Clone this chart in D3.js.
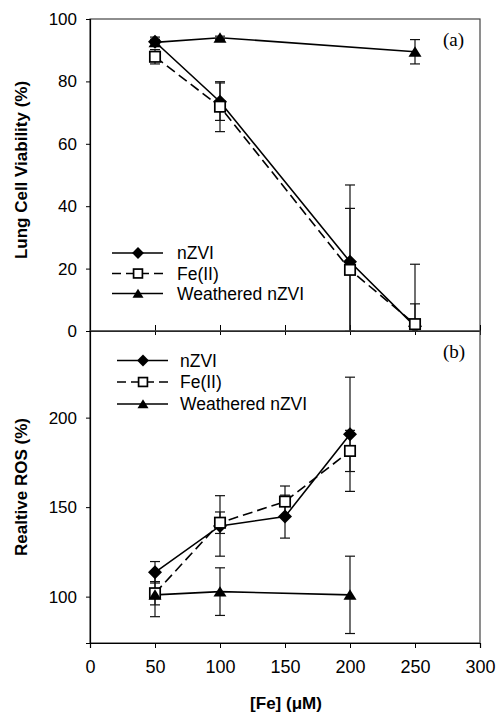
<!DOCTYPE html>
<html><head><meta charset="utf-8">
<script src="https://cdn.jsdelivr.net/npm/d3@7"></script>
<style>body{margin:0;background:#fff}svg{display:block}</style>
</head><body>
<script>
// ---- data ----
const xTicks = [0, 50, 100, 150, 200, 250, 300];
const yTicksTop = [0, 20, 40, 60, 80, 100];
const yTicksBot = [100, 150, 200];
const seriesNames = ["nZVI", "Fe(II)", "Weathered nZVI"];

const xA = [50, 100, 200, 250];
const nzviA = [92.7, 73.5, 22.2, 1.5];
const nzviAErr = [1.5, 6, 24.6, 7.2];
const feA = [87.9, 71.9, 19.6, 2.2];
const feAErr = [2.3, 8, 19.7, 19.2];
const xWA = [50, 100, 250];
const wA = [92.5, 94, 89.5];
const wAErr = [1, 0.5, 3.9];

const xB = [50, 100, 150, 200];
const nzviB = [113.6, 139.5, 144.7, 190.7];
const nzviBErr = [6, 16.9, 12, 31.9];
const feB = [101.9, 141.3, 153.1, 181.4];
const feBErr = [6.5, 6, 8.7, 11.5];
const xWB = [50, 100, 200];
const wB = [101, 102.8, 101];
const wBErr = [12.2, 13.3, 21.6];

const W = 496, H = 713;
const svg = d3.select("body").append("svg").attr("width", W).attr("height", H);
const FONT = "'Liberation Sans', Arial, sans-serif";

const x = d3.scaleLinear().domain([0, 300]).range([90, 480]);
const yA = d3.scaleLinear().domain([0, 100]).range([331, 19]);
const yB = d3.scaleLinear().domain([74.1, 248.4]).range([643, 331]);

function zip(xs, ys, es) { return xs.map((v, i) => ({x: v, y: ys[i], e: es[i]})); }

const panels = [
  {y: yA, ticks: yTicksTop, top: 19, bottom: 331, label: "Lung Cell Viability (%)", labelY: 170, tag: "(a)", tagY: 46,
   legend: {x0: 112, x1: 163, xm: 138, xt: 177, rows: [253, 273.5, 293.5]},
   series: [
     {name: "Weathered nZVI", data: zip(xWA, wA, wAErr), marker: "tri", dash: null},
     {name: "nZVI", data: zip(xA, nzviA, nzviAErr), marker: "dia", dash: null},
     {name: "Fe(II)", data: zip(xA, feA, feAErr), marker: "sq", dash: "10,5"}
   ]},
  {y: yB, ticks: yTicksBot, top: 331, bottom: 643, label: "Realtive ROS (%)", labelY: 487, tag: "(b)", tagY: 358,
   legend: {x0: 117, x1: 168, xm: 143, xt: 180, rows: [360.5, 382, 404]},
   series: [
     {name: "nZVI", data: zip(xB, nzviB, nzviBErr), marker: "dia", dash: null},
     {name: "Fe(II)", data: zip(xB, feB, feBErr), marker: "sq", dash: "10,5"},
     {name: "Weathered nZVI", data: zip(xWB, wB, wBErr), marker: "tri", dash: null}
   ]}
];

function drawMarker(g, type, cx, cy, s) {
  if (type === "dia") {
    const r = 7 * s;
    g.append("path").attr("d", `M${cx},${cy - r}L${cx + r},${cy}L${cx},${cy + r}L${cx - r},${cy}Z`).attr("fill", "#000");
  } else if (type === "sq") {
    const h = 5.2 * s;
    g.append("rect").attr("x", cx - h).attr("y", cy - h).attr("width", 2 * h).attr("height", 2 * h)
      .attr("fill", "#fff").attr("stroke", "#000").attr("stroke-width", 1.7);
  } else {
    const b = 6.5 * s, hh = 5.5 * s;
    g.append("path").attr("d", `M${cx},${cy - hh}L${cx + b},${cy + hh * 0.9}L${cx - b},${cy + hh * 0.9}Z`).attr("fill", "#000");
  }
}

panels.forEach((p, pi) => {
  const g = svg.append("g");
  const clipId = "clip" + pi;
  svg.append("defs").append("clipPath").attr("id", clipId).append("rect")
    .attr("x", 90).attr("y", p.top).attr("width", 390).attr("height", p.bottom - p.top);

  // frame
  g.append("rect").attr("x", 90).attr("y", p.top).attr("width", 390).attr("height", p.bottom - p.top)
    .attr("fill", "none").attr("stroke", "#444").attr("stroke-width", 1.2);

  // y axis
  const ya = d3.axisLeft(p.y).tickValues(p.ticks).tickSize(4).tickPadding(9).tickFormat(d3.format("d"));
  const yg = g.append("g").attr("transform", "translate(90,0)").call(ya);
  yg.select(".domain").attr("stroke", "#000").attr("stroke-width", 1.2);
  yg.selectAll(".tick line").attr("stroke", "#000");
  yg.selectAll("text").attr("font-family", FONT).attr("font-size", 17).attr("fill", "#000");

  // x axis
  if (pi === 1) {
    const xa = d3.axisBottom(x).tickValues(xTicks).tickSize(5).tickPadding(12).tickFormat(d3.format("d"));
    const xg = g.append("g").attr("transform", `translate(0,${p.bottom})`).call(xa);
    xg.select(".domain").attr("stroke", "#000").attr("stroke-width", 1.2);
    xg.selectAll(".tick line").attr("stroke", "#000");
    xg.selectAll("text").attr("font-family", FONT).attr("font-size", 18).attr("fill", "#000");
  } else {
    const xa = d3.axisBottom(x).tickValues(xTicks.slice(1)).tickSizeInner(4).tickSizeOuter(0).tickFormat("");
    const xg = g.append("g").attr("transform", `translate(0,${p.bottom})`).call(xa);
    xg.select(".domain").attr("stroke", "#000").attr("stroke-width", 1.2);
    xg.selectAll(".tick line").attr("stroke", "#000").attr("y1", -6);
  }

  // y label
  g.append("text").attr("transform", `translate(27,${p.labelY}) rotate(-90)`)
    .attr("text-anchor", "middle").attr("font-family", FONT).attr("font-weight", "bold")
    .attr("font-size", 17).text(p.label);

  // tag
  g.append("text").attr("x", 443).attr("y", p.tagY).attr("font-family", "'Liberation Serif', 'Times New Roman', serif")
    .attr("font-size", 19).text(p.tag);

  const plot = g.append("g").attr("clip-path", `url(#${clipId})`);
  const line = d3.line().x(d => x(d.x)).y(d => p.y(d.y));

  // error bars
  p.series.forEach(s => {
    s.data.forEach(d => {
      const cx = x(d.x), y1 = p.y(d.y + d.e), y2 = p.y(d.y - d.e);
      plot.append("line").attr("x1", cx).attr("x2", cx).attr("y1", y1).attr("y2", y2).attr("stroke", "#111").attr("stroke-width", 1.2);
      [y1, y2].forEach(yy => plot.append("line").attr("x1", cx - 5).attr("x2", cx + 5).attr("y1", yy).attr("y2", yy)
        .attr("stroke", "#111").attr("stroke-width", 1.2));
    });
  });
  // lines
  p.series.forEach(s => {
    plot.append("path").datum(s.data).attr("d", line).attr("fill", "none").attr("stroke", "#000")
      .attr("stroke-width", 1.6).attr("stroke-dasharray", s.dash);
  });
  // markers
  p.series.forEach(s => {
    s.data.forEach(d => drawMarker(plot, s.marker, x(d.x), p.y(d.y), 1));
  });

  // legend
  const L = p.legend;
  const legendOrder = ["nZVI", "Fe(II)", "Weathered nZVI"];
  legendOrder.forEach((nm, i) => {
    const s = p.series.find(t => t.name === nm);
    const yy = L.rows[i];
    g.append("line").attr("x1", L.x0).attr("x2", L.x1).attr("y1", yy).attr("y2", yy)
      .attr("stroke", "#000").attr("stroke-width", 1.6).attr("stroke-dasharray", s.dash ? "9,5" : null);
    drawMarker(g, s.marker, L.xm, yy, 0.85);
    g.append("text").attr("x", L.xt).attr("y", yy).attr("dy", "0.36em").attr("font-family", FONT)
      .attr("font-size", 17.5).text(nm);
  });
});

// x label
svg.append("text").attr("x", 286).attr("y", 709).attr("text-anchor", "middle").attr("font-family", FONT)
  .attr("font-weight", "bold").attr("font-size", 17).text("[Fe] (μM)");
</script>
</body></html>
